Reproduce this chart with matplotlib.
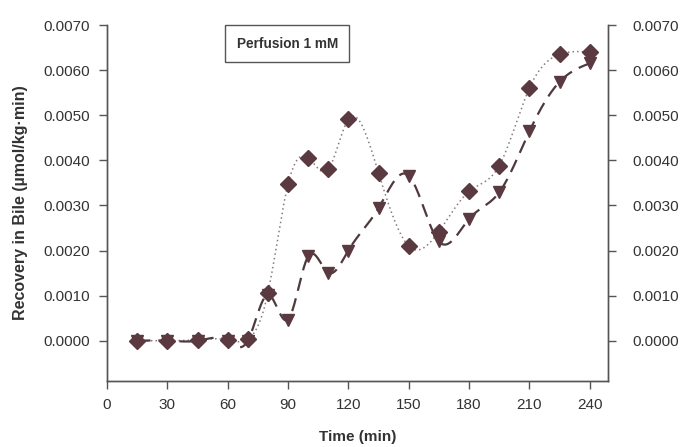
import matplotlib.pyplot as plt
import numpy as np

plt.rcParams["font.family"] = ["Liberation Sans", "DejaVu Sans"]

# data
time_min = [15, 30, 45, 60, 70, 80, 90, 100, 110, 120, 135, 150, 165, 180, 195, 210, 225, 240]
diamond_vals = [0.0, 0.0, 0.00002, 0.00002, 0.00003, 0.00106, 0.00347, 0.00406, 0.00380,
                0.00491, 0.00372, 0.00210, 0.00242, 0.00331, 0.00388, 0.00560, 0.00635, 0.00640]
triangle_vals = [0.0, 0.0, 0.0, 0.0, 0.0, 0.00102, 0.00047, 0.00187, 0.00151,
                 0.00200, 0.00294, 0.00366, 0.00220, 0.00270, 0.00329, 0.00464, 0.00574, 0.00615]

x_ticks = [0, 30, 60, 90, 120, 150, 180, 210, 240]
y_ticks = [0.0, 0.001, 0.002, 0.003, 0.004, 0.005, 0.006, 0.007]

TEXT = "#333333"
SPINE = "#555555"
MARK = "#5a3a40"


def natural_spline(x, y, n=600):
    """Smooth line through the points (natural cubic spline), as the old plot did."""
    x = np.asarray(x, float)
    y = np.asarray(y, float)
    k = len(x)
    h = np.diff(x)
    A = np.zeros((k, k))
    b = np.zeros(k)
    A[0, 0] = A[-1, -1] = 1
    for i in range(1, k - 1):
        A[i, i - 1] = h[i - 1]
        A[i, i] = 2 * (h[i - 1] + h[i])
        A[i, i + 1] = h[i]
        b[i] = 6 * ((y[i + 1] - y[i]) / h[i] - (y[i] - y[i - 1]) / h[i - 1])
    m = np.linalg.solve(A, b)
    xs = np.linspace(x[0], x[-1], n)
    idx = np.clip(np.searchsorted(x, xs) - 1, 0, k - 2)
    x0, x1 = x[idx], x[idx + 1]
    hh = x1 - x0
    t0, t1 = x1 - xs, xs - x0
    ys = (m[idx] * t0**3 + m[idx + 1] * t1**3) / (6 * hh) \
        + (y[idx] / hh - m[idx] * hh / 6) * t0 + (y[idx + 1] / hh - m[idx + 1] * hh / 6) * t1
    return xs, ys


fig = plt.figure(figsize=(6.86, 4.47), dpi=100)
ax = fig.add_axes([0.156, 0.148, 0.730, 0.796])

xs, ys = natural_spline(time_min, diamond_vals)
ax.plot(xs, ys, color="#8a7a7c", lw=1.1, ls=(0, (1, 2)))
xs, ys = natural_spline(time_min, triangle_vals)
ax.plot(xs, ys, color="#4e3a3e", lw=1.6, ls=(0, (6, 3.5)))

ax.plot(time_min, triangle_vals, ls="none", marker="v", ms=9, color=MARK, zorder=3)
ax.plot(time_min, diamond_vals, ls="none", marker="D", ms=8.5, color=MARK, zorder=4)

ax.set_xlim(0, 249)
ax.set_ylim(-0.00089, 0.0070)
ax.set_xticks(x_ticks)
ax.set_yticks(y_ticks)
ax.set_yticklabels([f"{v:.4f}" for v in y_ticks])

ax2 = ax.twinx()
ax2.set_ylim(ax.get_ylim())
ax2.set_yticks(y_ticks)
ax2.set_yticklabels([f"{v:.4f}" for v in y_ticks])

for a in (ax, ax2):
    a.spines["top"].set_visible(False)
    for s in a.spines.values():
        s.set_color(SPINE)
        s.set_linewidth(1.0)
    a.tick_params(direction="out", length=6, width=1.0, color=SPINE,
                  labelsize=11, labelcolor=TEXT, pad=6)
ax2.tick_params(axis="y", pad=12)

ax.set_xlabel("Time (min)", fontsize=11, fontweight="bold", color=TEXT, labelpad=13)
ax.set_ylabel("Recovery in Bile (µmol/kg·min)", fontsize=11.5, fontweight="bold",
              color=TEXT, labelpad=11)

ax.text(0.36, 0.947, "Perfusion 1 mM", transform=ax.transAxes, fontsize=9.8,
        fontweight="bold", color=TEXT, ha="center", va="center",
        bbox=dict(boxstyle="square,pad=0.85", fc="white", ec=SPINE, lw=1.0))

fig.savefig("out.png", dpi=100)
